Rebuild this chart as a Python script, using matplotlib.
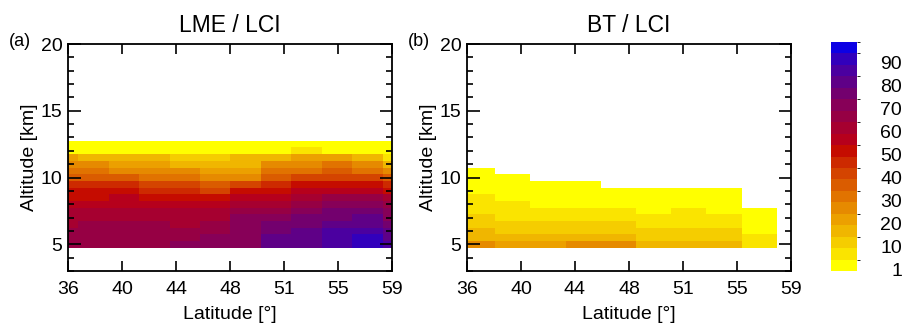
import numpy as np
import matplotlib
matplotlib.use("Agg")
import matplotlib.pyplot as plt
from matplotlib.colors import ListedColormap, BoundaryNorm
from matplotlib.ticker import MultipleLocator
from matplotlib.transforms import blended_transform_factory

plt.rcParams['font.family'] = ['Liberation Sans', 'DejaVu Sans']

# ---------------- data ----------------
alt = [5.0, 5.5, 6.0, 6.5, 7.0, 7.5, 8.0, 8.5, 9.0, 9.5, 10.0, 10.5, 11.0, 11.5, 12.0, 12.5]
lat_a = [35.65, 37.81, 39.97, 42.13, 44.29, 46.45, 48.61, 50.77, 52.93, 55.09, 57.25, 59.41]
lat_b = [36.75, 39.25, 41.75, 44.25, 46.75, 49.25, 51.75, 54.25, 56.75]

n = np.nan
# LME / LCI  (rows: alt bottom->top, cols: lat_a)
lme_lci = [
    [67, 67, 67, 67, 72, 72, 72, 82, 82, 87, 92, 87],
    [67, 67, 67, 67, 67, 72, 72, 82, 82, 87, 92, 82],
    [67, 67, 67, 67, 67, 67, 72, 77, 82, 87, 87, 82],
    [62, 67, 67, 67, 62, 67, 72, 77, 77, 82, 82, 77],
    [62, 62, 62, 62, 62, 62, 72, 72, 77, 77, 82, 72],
    [62, 62, 62, 62, 62, 62, 67, 67, 72, 77, 77, 72],
    [57, 57, 57, 57, 57, 57, 62, 62, 67, 72, 72, 67],
    [52, 52, 57, 52, 52, 52, 57, 57, 62, 67, 67, 62],
    [52, 52, 52, 47, 47, 42, 52, 52, 57, 57, 57, 52],
    [47, 47, 47, 42, 42, 37, 42, 47, 52, 52, 52, 47],
    [37, 37, 37, 32, 32, 27, 27, 37, 42, 42, 42, 37],
    [32, 32, 27, 27, 27, 22, 22, 32, 32, 37, 32, 27],
    [27, 27, 22, 22, 17, 17, 17, 27, 27, 32, 27, 17],
    [22, 17, 17, 17, 12, 12, 17, 17, 22, 22, 17, 7],
    [3, 3, 3, 3, 3, 3, 3, 3, 7, 3, 3, 3],
    [3, 3, 3, 3, 3, 3, 3, 3, 3, 3, 3, 3],
]
# BT / LCI  (rows: alt bottom->top, cols: lat_b)
bt_lci = [
    [27, 22, 22, 27, 27, 17, 17, 17, 7],
    [17, 17, 17, 17, 17, 12, 12, 12, 7],
    [17, 12, 12, 12, 12, 12, 12, 12, 3],
    [12, 12, 12, 12, 12, 7, 7, 7, 3],
    [12, 7, 7, 7, 7, 7, 7, 7, 3],
    [7, 7, 7, 7, 7, 3, 7, 3, 3],
    [7, 7, 3, 3, 3, 3, 3, 3, n],
    [7, 3, 3, 3, 3, 3, 3, 3, n],
    [3, 3, 3, 3, 3, 3, 3, 3, n],
    [3, 3, 3, 3, n, n, n, n, n],
    [3, 3, n, n, n, n, n, n, n],
    [3, n, n, n, n, n, n, n, n],
    [n, n, n, n, n, n, n, n, n],
    [n, n, n, n, n, n, n, n, n],
    [n, n, n, n, n, n, n, n, n],
    [n, n, n, n, n, n, n, n, n],
]

levels = [1, 5, 10, 15, 20, 25, 30, 35, 40, 45, 50, 55, 60, 65, 70, 75, 80, 85, 90, 95, 100]
cbar_ticks = [1, 10, 20, 30, 40, 50, 60, 70, 80, 90]
xtick_pos = np.linspace(36, 59, 7)
xtick_labels = ['36', '40', '44', '48', '51', '55', '59']
titles = ['LME / LCI', 'BT / LCI']
panel_tags = ['(a)', '(b)']

colors = [
    (255, 255, 0), (250, 228, 0), (245, 205, 0), (240, 182, 0), (236, 160, 0),
    (230, 138, 0), (225, 115, 0), (218, 92, 0), (212, 68, 0), (205, 42, 0),
    (197, 12, 0), (182, 0, 28), (166, 0, 48), (150, 0, 68), (135, 0, 88),
    (115, 0, 110), (95, 0, 135), (75, 0, 160), (50, 0, 188), (12, 0, 228),
]
cmap = ListedColormap([(r / 255, g / 255, b / 255) for r, g, b in colors])
norm = BoundaryNorm(levels, cmap.N)

# ---------------- figure ----------------
W, H = 905, 332
fig = plt.figure(figsize=(W / 100, H / 100), dpi=100)

def fx(px):
    return px / W

def fy(py):
    return 1 - py / H

ax_top, ax_bot = 44, 271
lefts = [68, 467]
axw = 324
axes = []
for i, (left, data, lats) in enumerate(zip(lefts, [lme_lci, bt_lci], [lat_a, lat_b])):
    ax = fig.add_axes([fx(left), fy(ax_bot), axw / W, (ax_bot - ax_top) / H])
    z = np.ma.masked_invalid(np.array(data, dtype=float))
    mesh = ax.pcolormesh(lats, alt, z, cmap=cmap, norm=norm, shading='nearest')
    ax.set_xlim(36, 59)
    ax.set_ylim(3, 20)
    ax.set_xticks(xtick_pos)
    ax.set_xticklabels(xtick_labels)
    ax.set_yticks([5, 10, 15, 20])
    ax.yaxis.set_minor_locator(MultipleLocator(1))
    ax.tick_params(axis='both', which='both', direction='in', top=True, right=True,
                   labelsize=14, width=1.2, colors='black')
    ax.tick_params(axis='x', which='major', length=7, pad=7)
    ax.tick_params(axis='y', which='major', length=9, pad=4)
    ax.tick_params(axis='y', which='minor', length=4.5)
    for s in ax.spines.values():
        s.set_linewidth(1.3)
    ax.set_xlabel('Latitude [°]', fontsize=14, labelpad=6)
    ax.set_ylabel('Altitude [km]', fontsize=14, labelpad=2)
    ax.set_title(titles[i], fontsize=16.5, pad=9)
    fig.text(fx(left - 59), fy(42), panel_tags[i], fontsize=13, ha='left', va='center')
    axes.append(ax)

cax = fig.add_axes([fx(831), fy(271), 26 / W, (271 - 42) / H])
cb = fig.colorbar(mesh, cax=cax, spacing='uniform', ticks=cbar_ticks, boundaries=levels)
cb.outline.set_visible(False)
cax.tick_params(length=0, labelright=False, labelleft=False)
trans = blended_transform_factory(fig.transFigure, cax.transData)
for t in cbar_ticks:
    cax.text(fx(902), t, str(t), transform=trans, fontsize=14, ha='right', va='center')

fig.savefig('out.png', dpi=100)
